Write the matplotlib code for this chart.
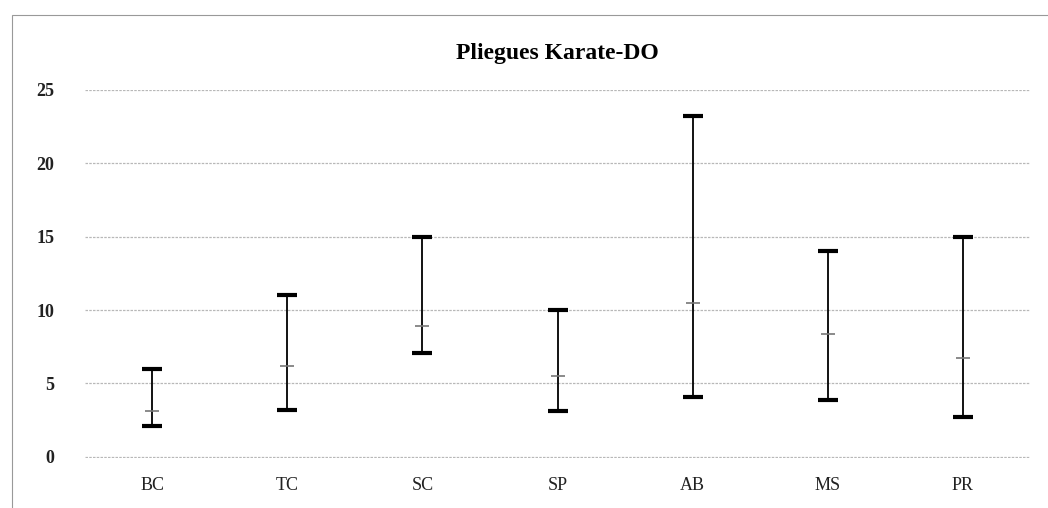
import matplotlib.pyplot as plt
import numpy as np
from matplotlib.patches import Rectangle

# Datos
categorias = ['BC', 'TC', 'SC', 'SP', 'AB', 'MS', 'PR']
minimos = [2.1, 3.2, 7.1, 3.15, 4.05, 3.9, 2.7]
maximos = [6.0, 11.0, 15.0, 10.0, 23.2, 14.0, 15.0]
medias = [3.15, 6.2, 8.9, 5.5, 10.5, 8.4, 6.75]

plt.rcParams['font.family'] = ['Liberation Serif', 'DejaVu Serif']

fig = plt.figure(figsize=(10.48, 5.08), dpi=100)
ax = fig.add_axes([0.081, 0.0984, 0.902, 0.7245])

x = np.arange(len(categorias))
medias = np.array(medias)
err = [medias - np.array(minimos), np.array(maximos) - medias]

ax.errorbar(x, medias, yerr=err, fmt='none', ecolor='black', elinewidth=1.3,
            capsize=7.5, capthick=3, zorder=3)
ax.plot(x, medias, linestyle='none', marker='_', markersize=10,
        markeredgewidth=1.2, color='#777777', zorder=4)

ax.set_xlim(-0.5, len(categorias) - 0.5)
ax.set_ylim(-0.08, 25)
ax.set_yticks([0, 5, 10, 15, 20, 25])
ax.set_xticks(x)
ax.set_xticklabels(categorias)

ax.yaxis.grid(True, color='#b8b8b8', linestyle=(0, (2, 1)), linewidth=0.9)
ax.set_axisbelow(True)
for s in ax.spines.values():
    s.set_visible(False)
ax.tick_params(axis='both', length=0, labelsize=13, colors='#222222')
ax.tick_params(axis='y', pad=22)
ax.tick_params(axis='x', pad=14)
for t in ax.get_yticklabels():
    t.set_fontweight('bold')

ax.set_title('Pliegues Karate-DO', fontsize=17, fontweight='bold', pad=22)

# Borde del area del grafico
fig.patches.append(Rectangle((12 / 1048, -0.05), 1.1, 1.05 - 15 / 508,
                             transform=fig.transFigure, fill=False,
                             edgecolor='#999999', linewidth=0.8))

fig.savefig('out.png', dpi=100)
